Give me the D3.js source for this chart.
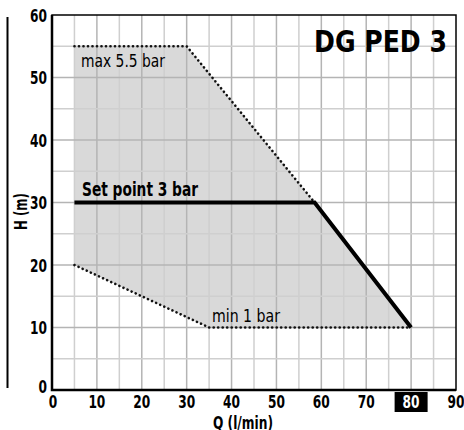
<!DOCTYPE html>
<html>
<head>
<meta charset="utf-8">
<script src="https://cdn.jsdelivr.net/npm/d3@7"></script>
<style>
  body { margin: 0; background: #fff; }
  text { font-family: "DejaVu Sans", sans-serif; font-stretch: condensed; }
</style>
</head>
<body>
<svg id="chart" width="464" height="430"></svg>
<script>
var xTicks = [0, 10, 20, 30, 40, 50, 60, 70, 80, 90];
var yTicks = [0, 10, 20, 30, 40, 50, 60];
var highlightTick = 80;

// operating envelope (Q l/min, H m)
var maxCurve = [[5, 55], [30, 55], [58.5, 30]];
var minCurve = [[5, 20], [35, 10], [80, 10]];
var setPoint = [[5, 30], [58.5, 30], [80, 10]];

var svg = d3.select('#chart');
var x = d3.scaleLinear().domain([0, 90]).range([52, 456]);
var y = d3.scaleLinear().domain([0, 60]).range([390, 15]);

var line = d3.line().x(function(d) { return x(d[0]); }).y(function(d) { return y(d[1]); });

// narrow face stand-in: squeeze text to the width it has in the original
function fit(sel, w) {
  sel.attr('textLength', w).attr('lengthAdjust', 'spacingAndGlyphs');
  return sel;
}

// shaded region
var area = maxCurve.concat([setPoint[2]], minCurve.slice().reverse());
svg.append('path')
  .attr('d', line(area) + 'Z')
  .attr('fill', '#d9d9d9');

// grid, every 5 units
var g = svg.append('g').attr('class', 'grid');
d3.range(5, 90, 5).forEach(function(v) {
  g.append('line')
    .attr('x1', x(v)).attr('x2', x(v))
    .attr('y1', y(0)).attr('y2', y(60))
    .attr('stroke', v % 10 === 0 ? '#b4b4b4' : '#cfcfcf')
    .attr('stroke-width', 1.5);
});
d3.range(5, 60, 5).forEach(function(v) {
  g.append('line')
    .attr('x1', x(0)).attr('x2', x(90))
    .attr('y1', y(v)).attr('y2', y(v))
    .attr('stroke', v % 10 === 0 ? '#b4b4b4' : '#cfcfcf')
    .attr('stroke-width', 1.5);
});

// frame
svg.append('rect')
  .attr('x', x(0)).attr('y', y(60))
  .attr('width', x(90) - x(0)).attr('height', y(0) - y(60))
  .attr('fill', 'none').attr('stroke', '#000').attr('stroke-width', 1.5);
svg.append('path')
  .attr('d', 'M' + x(0) + ',' + y(60) + 'V' + y(0) + 'H' + x(90))
  .attr('fill', 'none').attr('stroke', '#000').attr('stroke-width', 2.5);

// dotted limits
[maxCurve, minCurve].forEach(function(c) {
  svg.append('path')
    .attr('d', line(c))
    .attr('fill', 'none')
    .attr('stroke', '#111')
    .attr('stroke-width', 2.6)
    .attr('stroke-linecap', 'round')
    .attr('stroke-dasharray', '0.1 4.4');
});

// set point curve
svg.append('path')
  .attr('d', line(setPoint))
  .attr('fill', 'none')
  .attr('stroke', '#000')
  .attr('stroke-width', 4);

// tick labels
svg.selectAll('text.ytick').data(yTicks).enter().append('text')
  .attr('class', 'ytick')
  .attr('x', 47)
  .attr('y', function(d) { return d === 0 ? y(d) + 3 : y(d) + 6.5; })
  .attr('text-anchor', 'end')
  .attr('font-size', 17).attr('font-weight', 'bold')
  .attr('textLength', function(d) { return String(d).length * 8.5; })
  .attr('lengthAdjust', 'spacingAndGlyphs')
  .text(function(d) { return d; });

var hx = x(highlightTick);
svg.append('rect')
  .attr('x', hx - 16.5).attr('y', 392)
  .attr('width', 33).attr('height', 20)
  .attr('fill', '#000');

svg.selectAll('text.xtick').data(xTicks).enter().append('text')
  .attr('class', 'xtick')
  .attr('x', function(d) { return d === 0 ? x(d) + 1 : x(d); })
  .attr('y', 408)
  .attr('text-anchor', 'middle')
  .attr('font-size', 17).attr('font-weight', 'bold')
  .attr('fill', function(d) { return d === highlightTick ? '#fff' : '#000'; })
  .attr('textLength', function(d) { return String(d).length * 8.5; })
  .attr('lengthAdjust', 'spacingAndGlyphs')
  .text(function(d) { return d; });

// axis titles
fit(svg.append('text')
  .attr('x', 213).attr('y', 429)
  .attr('font-size', 17).attr('font-weight', 'bold')
  .text('Q (l/min)'), 60);
fit(svg.append('text')
  .attr('transform', 'translate(27,230) rotate(-90)')
  .attr('font-size', 17).attr('font-weight', 'bold')
  .text('H (m)'), 37);
svg.append('line')
  .attr('x1', 7.5).attr('x2', 7.5)
  .attr('y1', 17).attr('y2', 388)
  .attr('stroke', '#000').attr('stroke-width', 2);

// annotations
fit(svg.append('text')
  .attr('x', 314).attr('y', 52)
  .attr('font-size', 30).attr('font-weight', 'bold')
  .attr('font-stretch', 'normal')
  .text('DG PED 3'), 133);
fit(svg.append('text')
  .attr('x', 82).attr('y', 196)
  .attr('font-size', 20).attr('font-weight', 'bold')
  .text('Set point 3 bar'), 116);
fit(svg.append('text')
  .attr('x', 81).attr('y', 67)
  .attr('font-size', 18)
  .text('max 5.5 bar'), 84);
fit(svg.append('text')
  .attr('x', 212).attr('y', 322)
  .attr('font-size', 18)
  .text('min 1 bar'), 68);
</script>
</body>
</html>
